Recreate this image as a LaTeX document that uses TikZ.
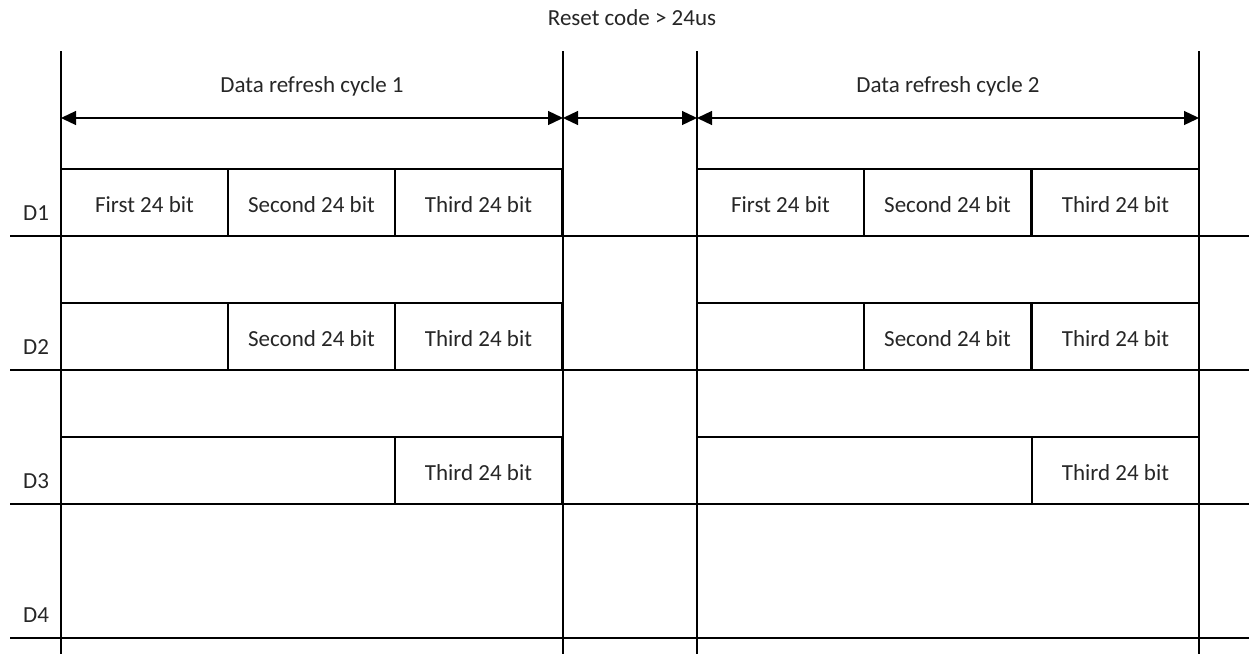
\documentclass[tikz,border=0pt]{standalone}
\usepackage{fontspec}
\setmainfont{Carlito}
\usetikzlibrary{arrows.meta}
\begin{document}
\begin{tikzpicture}[x=1pt,y=-1pt,
  txt/.style={font=\fontsize{23}{27}\selectfont,inner sep=0pt,text=black!85},
  cell/.style={txt,draw=black,line width=2pt,minimum width=167pt,minimum height=67pt,
    outer sep=0pt,anchor=north west,text height=22pt,text depth=3pt},
  gridline/.style={line width=2pt},
  dimline/.style={line width=1.3pt,{Triangle[length=15pt,width=14pt]}-{Triangle[length=15pt,width=14pt]}}]
\useasboundingbox (0,0) rectangle (1249,654);
% row lines
\foreach \y in {236,370,504,638} \draw[gridline] (10,\y) -- (1249,\y);
% cells D1
\node[cell] (a11) at (61,169) {First 24 bit};
\node[cell] (a12) at (228,169) {Second 24 bit};
\node[cell] (a13) at (395,169) {Third 24 bit};
\node[cell] (b11) at (697,169) {First 24 bit};
\node[cell] (b12) at (864,169) {Second 24 bit};
\node[cell] (b13) at (1032,169) {Third 24 bit};
% top lines D1
\draw[gridline] (a11.north west) -- (a13.north east);
% D2
\node[cell] (a22) at (228,303) {Second 24 bit};
\node[cell] (a23) at (395,303) {Third 24 bit};
\node[cell] (b22) at (864,303) {Second 24 bit};
\node[cell] (b23) at (1032,303) {Third 24 bit};
\coordinate (a2l) at (61,303);
\coordinate (b2l) at (697,303);
\draw[gridline] (a2l) -- (a22.north west);
\draw[gridline] (b2l) -- (b22.north west);
% D3
\node[cell] (a33) at (395,437) {Third 24 bit};
\node[cell] (b33) at (1032,437) {Third 24 bit};
\coordinate (a3l) at (61,437);
\coordinate (b3l) at (697,437);
\draw[gridline] (a3l) -- (a33.north west);
\draw[gridline] (b3l) -- (b33.north west);
% vertical lines
\foreach \x/\n in {61/v1,563/v2,697/v3,1199/v4} {
  \coordinate (\n t) at (\x,51);
  \coordinate (\n b) at (\x,654);
  \coordinate (\n m) at (\x,118);
  \draw[gridline] (\n t) -- (\n b);
}
% D1 box top lines for cycle 2 in case
\draw[gridline] (b11.north west) -- (b13.north east);
% dimension arrows
\draw[dimline] (v1m) -- (v2m);
\draw[dimline] (v2m) -- (v3m);
\draw[dimline] (v3m) -- (v4m);
% labels
\node[txt,anchor=base] (c1) at (312,92) {Data refresh cycle 1};
\node[txt,anchor=base] (c2) at (948,92) {Data refresh cycle 2};
\node[txt,anchor=base] (rc) at (632,25) {Reset code > 24us};
\node[txt,anchor=base west] (d1) at (23,220) {D1};
\node[txt,anchor=base west] (d2) at (23,354) {D2};
\node[txt,anchor=base west] (d3) at (23,488) {D3};
\node[txt,anchor=base west] (d4) at (23,622) {D4};
\end{tikzpicture}
\end{document}
